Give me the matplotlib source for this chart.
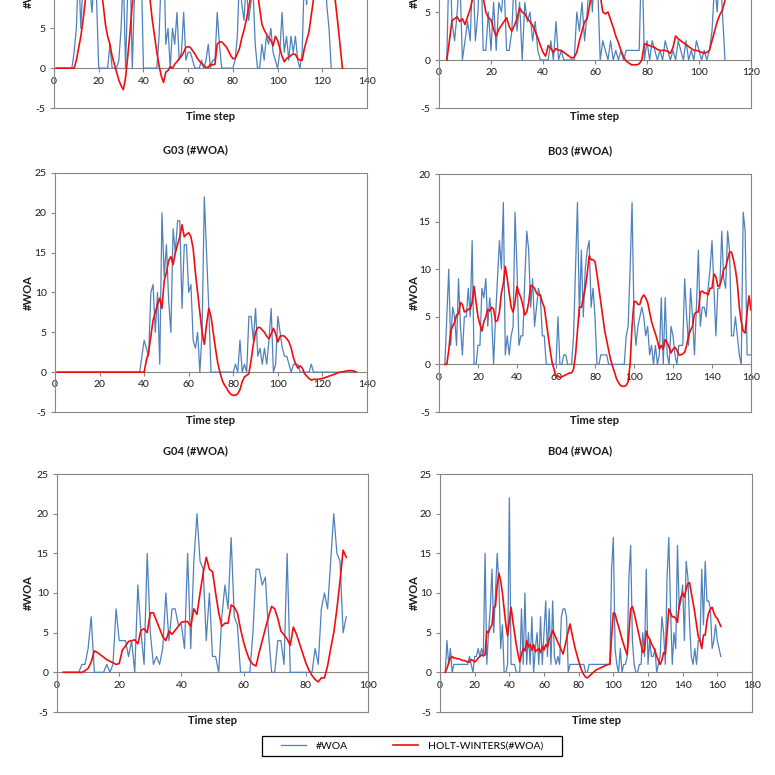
import numpy as np
import matplotlib
matplotlib.use('Agg')
import matplotlib.pyplot as plt
from matplotlib.lines import Line2D
from matplotlib.patches import Rectangle

plt.rcParams['font.family'] = ['Lato', 'DejaVu Sans']
plt.rcParams['axes.unicode_minus'] = False

# ---------------- data ----------------
# top-left panel (G02), time steps start at 1
g02_woa_start = 1
g02_woa = [0, 0, 0, 0, 0, 0, 0, 0,
           2, 5, 13, 5, 11, 9, 14, 10, 7, 12, 9, 0,
           0, 0, 0, 0, 3, 0, 0, 0, 1, 5,
           12, 0, 10, 14, 0, 9, 15, 11, 13, 0,
           0, 0, 0, 0, 0, 0, 4, 12, 16, 3,
           5, 0, 5, 3, 7, 1, 2, 7, 1, 2,
           2, 1, 0, 0, 0, 1, 0, 1, 3, 0,
           1, 1, 7, 3, 0, 0, 0, 0, 0, 0,
           1, 4, 12, 8, 6, 11, 6, 8, 10, 3,
           0, 0, 3, 1, 4, 3, 5, 2, 1, 0,
           2, 7, 2, 4, 1, 4, 2, 4, 1, 0,
           2, 12, 8, 14, 11, 16, 10, 13, 9, 12,
           15, 8, 5, 0]
g02_hw_start = 1
g02_hw = [0, 0, 0, 0, 0, 0, 0, 0, 0,
          1.0, 2.5, 4.0, 6.0, 8.5, 11.0, 13.0, 14.0, 14.5, 13.5, 12.0,
          10.0, 8.0, 5.5, 4.0, 3.0, 1.5, 0.5, -0.5, -1.5, -2.2,
          -2.7, -1.2, 1.5, 4.5, 8.0, 10.5, 13.0, 14.5, 15.0, 14.5,
          13.0, 10.5, 8.5, 6.0, 4.0, 2.0, 0.3, -1.0, -1.8, -0.5,
          -0.3, 0.2, 0.0, 0.5, 0.8, 1.2, 1.5, 2.0, 2.6, 2.7,
          2.6, 2.2, 1.8, 1.3, 0.9, 0.6, 0.3, 0.1, 0.1, 0.5,
          0.4, 0.5, 3.0, 3.3, 3.3, 3.0, 2.7, 2.2, 1.6, 1.2,
          1.2, 1.8, 2.5, 3.8, 4.8, 6.0, 7.5, 9.0, 10.5, 11.0,
          9.5, 7.5, 5.5, 4.8, 4.3, 3.8, 3.5, 2.8, 4.0, 3.5,
          2.5, 1.5, 0.8, 1.2, 1.4, 1.6, 1.8, 1.7, 1.2, 1.0,
          1.0, 2.5, 3.5, 4.5, 6.5, 8.5, 10.5, 12.5, 14.0, 15.0,
          15.5, 15.0, 14.0, 12.0, 10.5, 8.0, 5.5, 2.8, 0.0]

# top-right panel (B02)
b02_woa_start = 3
b02_woa = [0, 12, 4, 2, 5, 9, 0, 2,
           4, 2, 10, 2, 5, 12, 1, 1, 5, 1,
           6, 1, 6, 5, 8, 1, 1, 3, 9, 3,
           6, 0, 6, 4, 5, 2, 4, 1, 0, 0,
           0, 0, 2, 0, 4, 0, 1, 0, 0, 0,
           0, 0, 5, 3, 6, 2, 5, 9, 5, 11,
           8, 0, 2, 1, 0, 2, 0, 1, 0, 1,
           0, 1, 1, 1, 1, 1, 1, 12, 0, 2,
           0, 2, 1, 0, 1, 0, 2, 1, 0, 1,
           0, 2, 1, 0, 2, 0, 1, 0, 2, 1,
           0, 1, 0, 1, 3, 8, 5, 10, 5, 0]
b02_hw_start = 3
b02_hw = [0, 2.0, 4.1, 4.3, 4.5, 4.0, 4.3, 3.7,
          4.5, 5.3, 6.5, 7.5, 8.0, 7.5, 6.5, 5.0, 4.4, 4.2,
          3.2, 2.5, 3.2, 3.6, 4.0, 4.4, 3.5, 3.0, 3.6, 4.3,
          5.4, 5.0, 4.8, 4.3, 4.0, 3.6, 3.0, 2.3, 1.5, 0.8,
          0.4, 1.5, 1.2, 0.8, 1.2, 1.0, 1.0, 0.8, 0.6, 0.4,
          0.2, 0.3, 0.8, 2.0, 3.0, 4.0, 4.3, 5.8, 7.5, 8.5,
          8.0, 6.8, 5.0, 4.8, 5.0, 4.2, 3.4, 2.5, 1.8, 1.0,
          0.3, -0.1, -0.3, -0.5, -0.5, -0.5, -0.4, 0.0, 1.7, 1.6,
          1.5, 1.4, 1.3, 1.1, 1.0, 1.0, 1.0, 0.9, 0.7, 1.3,
          2.5, 2.2, 2.0, 1.8, 1.6, 1.4, 1.2, 1.0, 1.0, 0.9,
          0.8, 0.7, 0.8, 1.0, 2.0, 3.0, 4.0, 4.7, 5.2, 6.2]

# G03
g03_woa_start = 1
g03_woa = [0] * 38 + [2, 4,
           3, 2, 10, 11, 5, 10, 1, 20, 12, 16,
           9, 5, 18, 15, 19, 19, 8, 16, 16, 10,
           11, 4, 3, 5, 0, 5, 22, 15, 8, 0,
           0, 0, 0, 0, 0, 0, 0, 0, 0, 0,
           1, 0, 4, 0, 1, 0, 7, 7, 4, 8,
           2, 3, 1, 3, 1, 4, 8, 0, 1, 7,
           5, 3, 2, 2, 1, 0, 1, 1, 1, 0,
           0, 0, 0, 0, 1, 0, 0, 0, 0, 0] + [0] * 15
g03_hw_start = 1
g03_hw = [0] * 40 + [
          1.5, 2.5, 4.5, 6.5, 7.5, 8.5, 9.3, 8.0, 11.5, 12.5,
          14.0, 14.5, 13.5, 15.0, 16.0, 17.0, 18.5, 17.0, 17.3, 17.5,
          17.0, 15.5, 12.5, 10.0, 7.5, 5.0, 3.5, 6.0, 8.0, 7.0,
          5.0, 3.0, 1.2, 0.0, -1.0, -1.6, -2.0, -2.5, -2.8, -2.9,
          -2.9, -2.7, -2.2, -1.2, -0.6, -0.4, -0.2, 1.5, 3.5, 5.0,
          5.6, 5.6, 5.3, 5.0, 4.5, 4.2, 4.8, 5.5, 4.8, 3.8,
          4.5, 4.6, 4.5, 4.2, 3.8, 3.0, 1.8, 1.0, 0.5, 0.8,
          0.5, -0.2, -0.5, -0.8, -1.0, -0.9, -0.9, -0.9, -0.85, -0.8,
          -0.7, -0.6, -0.5, -0.4, -0.3, -0.2, -0.1, 0.0, 0.05, 0.1,
          0.15, 0.2, 0.2, 0.15, 0.05]

# B03
b03_woa_start = 3
b03_woa = [0, 5, 10, 2, 6, 5, 2,
           9, 4, 1, 5, 5, 8, 5, 13, 0, 0,
           2, 2, 8, 7, 9, 4, 7, 5, 0, 5,
           9, 13, 10, 17, 1, 3, 1, 3, 4, 16,
           10, 2, 3, 3, 9, 14, 12, 6, 9, 4,
           6, 8, 7, 3, 3, 0, 0, 0, 0, 0,
           0, 5, 0, 0, 1, 1, 0, 0, 0, 3,
           10, 17, 5, 12, 5, 10, 12, 13, 6, 8,
           5, 0, 0, 1, 1, 1, 1, 0, 0, 0,
           0, 0, 0, 0, 0, 0, 3, 4, 10, 17,
           5, 2, 4, 5, 6, 5, 3, 4, 1, 2,
           0, 2, 0, 1, 7, 0, 7, 1, 0, 4,
           3, 1, 0, 2, 2, 2, 9, 5, 2, 8,
           5, 1, 6, 12, 4, 6, 6, 5, 8, 10,
           13, 8, 3, 8, 8, 14, 9, 8, 14, 12,
           3, 3, 5, 3, 1, 0, 16, 14, 1, 1,
           1]
b03_hw_start = 3
b03_hw = [0, 0, 1.5, 3.5, 4.0, 4.4, 5.2,
          5.3, 6.5, 6.3, 5.5, 5.6, 5.8, 5.8, 6.5, 8.2, 6.5,
          5.0, 4.2, 3.5, 4.5, 5.0, 5.8, 5.6, 6.0, 5.8, 4.5,
          4.6, 5.5, 7.5, 8.5, 10.3, 9.0, 7.5, 6.0, 5.5, 6.5,
          8.2, 7.5, 7.0, 6.2, 5.2, 5.5, 6.5, 8.3, 8.2, 8.0,
          7.5, 7.3, 7.3, 6.5, 6.0, 4.5, 3.0, 1.5, 0.2, -0.5,
          -1.3, -1.2, -1.4, -1.3, -1.2, -1.1, -1.0, -0.9, -0.9, -0.5,
          1.0, 3.5, 6.0, 6.0, 7.0, 8.0, 9.5, 11.4, 11.0, 11.0,
          10.8, 9.5, 8.0, 6.5, 5.0, 3.5, 2.5, 1.5, 0.5, -0.2,
          -0.8, -1.5, -1.9, -2.2, -2.3, -2.3, -2.2, -1.8, 0.0, 4.0,
          6.6, 6.6, 6.3, 6.3, 7.0, 7.3, 7.0, 6.5, 5.5, 4.5,
          3.8, 3.2, 2.5, 1.6, 2.0, 1.6, 2.6, 2.3, 1.8, 1.2,
          1.6, 1.8, 1.5, 1.0, 1.0, 1.1, 1.3, 2.0, 3.0, 3.6,
          4.0, 5.3, 5.5, 5.5, 7.6, 7.7, 7.5, 7.5, 7.3, 8.0,
          8.0, 9.5, 9.2, 8.2, 8.3, 9.0, 10.0, 10.2, 11.0, 11.8,
          11.8, 11.0, 10.0, 8.5, 6.0, 4.5, 3.5, 3.3, 5.5, 7.2,
          5.7]

# G04
g04_woa_start = 2
g04_woa = [0, 0, 0, 0, 0, 0,
           1, 1, 3, 7, 0, 0, 0, 0, 1, 0, 1, 8,
           4, 4, 4, 2, 4, 0, 11, 5, 1, 15,
           5, 1, 2, 1, 3, 10, 4, 8, 8, 6,
           6, 3, 15, 3, 14, 20, 14, 13, 4, 10,
           2, 2, 0, 7, 11, 8, 17, 7, 6, 0,
           0, 0, 0, 5, 13, 13, 11, 12, 5, 0,
           0, 4, 4, 1, 15, 0, 0, 0, 0, 0,
           0, 0, 0, 3, 1, 8, 10, 8, 14, 20,
           15, 14, 5, 7]
g04_hw_start = 2
g04_hw = [0, 0, 0, 0, 0, 0, 0,
          0.2, 0.5, 1.3, 2.7, 2.5, 2.2, 1.9, 1.6, 1.4, 1.2, 1.0,
          1.1, 2.8, 3.3, 3.9, 4.0, 4.1, 3.6, 5.3, 5.5, 5.0,
          7.5, 7.5, 6.5, 5.5, 4.5, 4.0, 5.2, 4.8, 5.3, 5.8,
          6.3, 6.4, 6.4, 5.8, 8.0, 7.3, 10.0, 12.5, 14.5, 13.0,
          12.7, 10.0, 7.5, 5.8, 6.2, 6.2, 8.5, 8.2, 7.5, 5.5,
          3.8, 2.5, 1.5, 1.0, 0.8, 2.5, 4.0, 5.5, 7.0, 8.3,
          8.0, 6.8, 5.2, 4.7, 4.2, 3.4, 5.7, 4.8, 3.6, 2.4,
          1.2, 0.3, -0.4, -0.9, -1.2, -0.7, -0.7, 0.8, 3.0, 5.0,
          8.0, 11.5, 15.4, 14.5]

# B04
b04_woa_start = 3
b04_woa = [0, 4, 1, 3, 0, 1, 1,
           1, 1, 1, 1, 1, 1, 1, 2, 1, 0,
           2, 2, 3, 2, 3, 2, 15, 1, 5, 8,
           13, 5, 10, 15, 11, 3, 6, 0, 0, 1,
           22, 1, 1, 1, 0, 0, 0, 8, 1, 10,
           1, 5, 1, 7, 0, 3, 5, 1, 7, 1,
           5, 9, 2, 8, 1, 9, 2, 1, 2, 1,
           7, 8, 8, 7, 0, 1, 1, 1, 1, 1,
           1, 1, 1, 1, 0, 0, 1, 1, 1, 1,
           1, 1, 1, 1, 1, 1, 1, 1, 1, 13,
           17, 3, 1, 0, 3, 0, 1, 1, 2, 12,
           16, 4, 1, 0, 0, 1, 1, 5, 2, 13,
           1, 4, 2, 2, 3, 0, 1, 2, 7, 5,
           1, 12, 17, 8, 1, 5, 3, 16, 8, 9,
           11, 4, 14, 12, 6, 2, 1, 3, 1, 4,
           4, 13, 6, 14, 9, 9, 8, 3, 4, 6,
           4, 3, 2]
b04_hw_start = 3
b04_hw = [0, 0.5, 1.2, 1.8, 2.0, 1.8, 1.8,
          1.7, 1.7, 1.6, 1.5, 1.5, 1.4, 1.3, 1.3, 1.6, 1.5,
          1.3, 1.5, 1.8, 2.0, 2.2, 2.1, 2.2, 5.2, 5.0, 5.6,
          6.0, 8.2, 8.3, 11.0, 12.5, 11.5, 10.0, 8.0, 6.0, 4.6,
          6.5, 8.2, 6.5, 5.0, 3.5, 2.3, 1.3, 2.3, 3.0, 2.7,
          4.0, 3.2, 3.5, 2.8, 3.5, 2.6, 2.8, 3.0, 2.5, 3.3,
          2.8, 3.5, 3.2, 4.2, 4.5, 5.3, 4.8, 4.3, 3.8, 3.3,
          2.8, 2.3, 3.2, 4.2, 5.2, 6.1, 5.0, 4.0, 3.0, 2.2,
          1.4, 0.7, 0.1, -0.3, -0.6, -0.7, -0.5, -0.3, -0.1, 0.1,
          0.3, 0.4, 0.5, 0.6, 0.7, 0.8, 0.9, 1.0, 1.0, 4.5,
          7.5, 7.4, 6.5, 5.8, 5.0, 4.2, 3.5, 2.8, 2.2, 5.0,
          8.0, 8.3, 7.5, 6.5, 5.5, 4.5, 3.5, 2.5, 2.8, 5.2,
          4.5, 4.2, 3.6, 3.2, 2.8, 2.0, 1.5, 1.0, 1.5, 2.5,
          2.3, 5.0, 8.0, 7.5, 7.0, 7.0, 6.8, 6.3, 8.5, 9.5,
          10.0, 9.5, 10.5, 11.2, 11.3, 10.0, 8.8, 7.5, 6.0, 4.5,
          4.0, 3.0, 4.7, 4.7, 6.5, 7.5, 8.0, 8.2, 7.5, 7.0,
          6.8, 6.3, 5.8]

series_labels = ['#WOA', 'HOLT-WINTERS(#WOA)']

# ---------------- drawing ----------------
W = 775.0
fig = plt.figure(figsize=(7.75, 7.75), dpi=100)

BLUE = '#4F81BD'
RED = '#F20D0D'
GRAY = '#868686'
TXT = '#1a1a1a'


def px_axes(x0, x1, ytop, ybot):
    return fig.add_axes([x0 / W, 1 - ybot / W, (x1 - x0) / W, (ybot - ytop) / W])


def draw(ax, woa_start, woa, hw_start, hw, xmax, ymax, ytick_max):
    xb = np.arange(woa_start, woa_start + len(woa))
    xr = np.arange(hw_start, hw_start + len(hw))
    ax.plot(xb, woa, color=BLUE, lw=0.9, zorder=3)
    ax.plot(xr, hw, color=RED, lw=1.2, zorder=4)
    ax.set_xlim(0, xmax)
    ax.set_ylim(-5, ymax)
    ax.set_xticks(np.arange(0, xmax + 1, 20))
    ax.set_yticks(np.arange(-5, ytick_max + 1, 5))
    for s in ['top', 'right', 'left']:
        ax.spines[s].set_color(GRAY)
        ax.spines[s].set_linewidth(0.8)
    ax.spines['bottom'].set_position(('data', 0))
    ax.spines['bottom'].set_color(GRAY)
    ax.spines['bottom'].set_linewidth(0.8)
    ax.plot([0, 1], [0, 0], transform=ax.transAxes, color=GRAY, lw=0.8,
            clip_on=False, zorder=5)
    ax.tick_params(axis='both', direction='out', length=3, width=0.8,
                   color=GRAY, labelsize=7.5, pad=3, labelcolor=TXT)


panels = [
    # (x0, x1, ytop, ybot, woa_start, woa, hw_start, hw, xmax, ymax, visible ytick max, title)
    (54, 367, -131, 108, g02_woa_start, g02_woa, g02_hw_start, g02_hw, 140, 25, 5, None),
    (439, 751, -132, 108, b02_woa_start, b02_woa, b02_hw_start, b02_hw, 120, 20, 5, None),
    (55, 367, 173, 412, g03_woa_start, g03_woa, g03_hw_start, g03_hw, 140, 25, 25, 'G03 (#WOA)'),
    (439, 751, 174, 412, b03_woa_start, b03_woa, b03_hw_start, b03_hw, 160, 20, 20, 'B03 (#WOA)'),
    (57, 368, 474, 712, g04_woa_start, g04_woa, g04_hw_start, g04_hw, 100, 25, 25, 'G04 (#WOA)'),
    (440, 752, 474, 712, b04_woa_start, b04_woa, b04_hw_start, b04_hw, 180, 25, 25, 'B04 (#WOA)'),
]

for i, (x0, x1, yt, yb, ws, wv, hs, hv, xmax, ymax, ytm, title) in enumerate(panels):
    ax = px_axes(x0, x1, yt, yb)
    draw(ax, ws, wv, hs, hv, xmax, ymax, ytm)
    left_col = (i % 2 == 0)
    # x label
    fig.text((x0 + x1) / 2 / W, 1 - (yb + 9) / W, 'Time step', ha='center', va='center',
             fontsize=8, fontweight='bold', color=TXT)
    # y label
    ylab_x = 28 if left_col else 414
    ylab_y = (yt + yb) / 2 if yt > 0 else -9
    fig.text(ylab_x / W, 1 - ylab_y / W, '#WOA', rotation=90, ha='center', va='center',
             fontsize=8, fontweight='bold', color=TXT)
    if title:
        cx = 195 if left_col else 580
        fig.text(cx / W, 1 - (yt - 23) / W, title, ha='center', va='center',
                 fontsize=8, fontweight='bold', color=TXT)

# legend
fig.add_artist(Rectangle((262 / W, 1 - 756 / W), 300 / W, 20 / W, transform=fig.transFigure,
                         fill=False, edgecolor='black', lw=0.9))
handles = [Line2D([], [], color=BLUE, lw=0.9), Line2D([], [], color=RED, lw=1.2)]
fig.legend(handles, series_labels, loc='center', bbox_to_anchor=(412 / W, 1 - 746 / W),
           ncol=2, frameon=False, fontsize=7.5, handlelength=2.4, handletextpad=1.0,
           columnspacing=4.3, borderpad=0, borderaxespad=0)

fig.savefig('out.png', dpi=100, facecolor='white')
